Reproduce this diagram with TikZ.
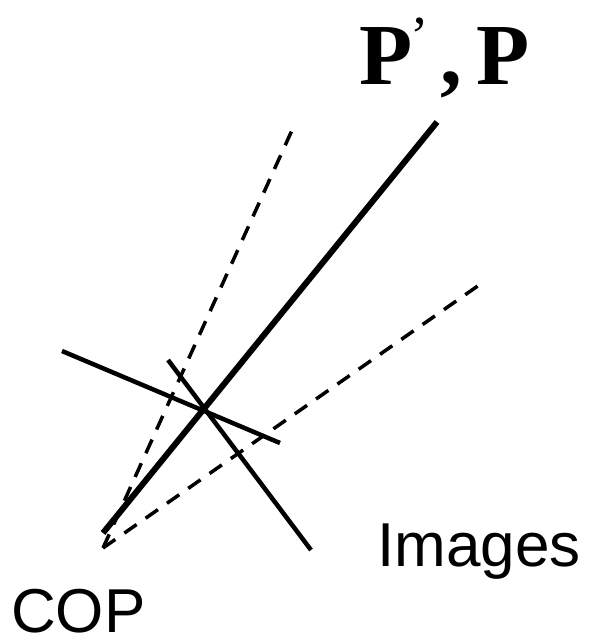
\documentclass[tikz,border=0pt]{standalone}
\usepackage{fontspec}
\setmainfont{Liberation Serif}
\setsansfont{Liberation Sans}
\begin{document}
\begin{tikzpicture}[x=1pt,y=-1pt,
  ray/.style={line width=6pt},
  dray/.style={line width=3.5pt, dash pattern=on 15pt off 11pt},
  plane/.style={line width=4.5pt},
  lbl/.style={inner sep=0pt, font=\sffamily\fontsize{62}{62}\selectfont},
  big/.style={inner sep=0pt, font=\bfseries\fontsize{87}{87}\selectfont}]
\useasboundingbox (0,0) rectangle (589,644);
% points
\coordinate (cop) at (103,548);
\coordinate (copt) at (103,533);
\coordinate (ptop) at (437,122);
\coordinate (d1) at (293,128);
\coordinate (d2) at (482,283);
\coordinate (a1) at (62,351);
\coordinate (a2) at (280,443);
\coordinate (b1) at (168,360);
\coordinate (b2) at (311,550);
% lines
\draw[dray] (cop) -- (d1);
\draw[dray] (cop) -- (d2);
\draw[plane] (a1) -- (a2);
\draw[plane] (b1) -- (b2);
\draw[ray] (copt) -- (ptop);
% labels
\node[big, anchor=base west] (p1) at (359,85) {P\kern-2pt\raisebox{30pt}{\fontsize{55}{55}\mdseries\selectfont\symbol{"27}}};
\node[big, anchor=base west] (comma) at (440,85) {,};
\node[big, anchor=base west] (p2) at (476,85) {P};
\node[lbl, anchor=base west] (images) at (377,566) {Images};
\node[lbl, anchor=base west] (coplbl) at (11,632) {COP};
\end{tikzpicture}
\end{document}
